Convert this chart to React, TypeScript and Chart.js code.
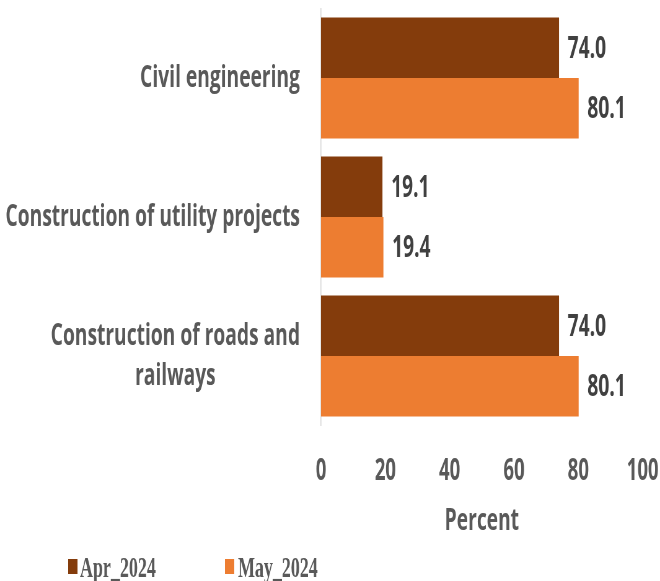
import React, { useEffect, useRef } from 'react';
import { Chart, registerables } from 'chart.js';

Chart.register(...registerables);

// ---- data ----
const categoryLines: string[][] = [
  ['Civil engineering'],
  ['Construction of utility projects'],
  ['Construction of roads and', 'railways'],
];
const categories = categoryLines.map((l) => l.join(' '));
const seriesNames = ['Apr_2024', 'May_2024'];
const apr2024 = [74.0, 19.1, 74.0];
const may2024 = [80.1, 19.4, 80.1];
const xTicks = [0, 20, 40, 60, 80, 100];
const xTitle = 'Percent';

// ---- styling / layout ----
const PAGE_W = 660;
const PAGE_H = 581;
const SQUISH = 0.62; // reference is horizontally compressed
const W = Math.round(PAGE_W / SQUISH);
const H = PAGE_H;
const colors = ['#843C0C', '#ED7D31'];
const FONT = "'Open Sans', sans-serif";
const LEGEND_FONT = "'Liberation Serif', 'Times New Roman', serif";
const legendBoxX = [110, 363];
const legendTextX = [129, 384];

const yLabelPlugin = {
  id: 'yLabels',
  afterDraw(chart: any) {
    const { ctx } = chart;
    const ys = chart.scales.y;
    ctx.save();
    ctx.font = `bold 31px ${FONT}`;
    ctx.fillStyle = '#595959';
    ctx.textAlign = 'center';
    ctx.textBaseline = 'middle';
    const lh = 40;
    categoryLines.forEach((lines, i) => {
      const yc = ys.getPixelForValue(i);
      const blockW = Math.max(...lines.map((t) => ctx.measureText(t).width));
      const cx = ys.right - 34 - blockW / 2;
      const y0 = yc - ((lines.length - 1) * lh) / 2;
      lines.forEach((t, k) => ctx.fillText(t, cx, y0 + k * lh));
    });
    ctx.restore();
  },
};

const dataLabelPlugin = {
  id: 'dataLabels',
  afterDatasetsDraw(chart: any) {
    const { ctx } = chart;
    ctx.save();
    ctx.font = `bold 31px ${FONT}`;
    ctx.fillStyle = '#404040';
    ctx.textAlign = 'left';
    ctx.textBaseline = 'middle';
    chart.data.datasets.forEach((ds: any, di: number) => {
      const meta = chart.getDatasetMeta(di);
      meta.data.forEach((el: any, i: number) => {
        ctx.fillText(Number(ds.data[i]).toFixed(1), el.x + 14, el.y + 1);
      });
    });
    ctx.restore();
  },
};

const legendPlugin = {
  id: 'customLegend',
  afterDraw(chart: any) {
    const { ctx } = chart;
    ctx.save();
    ctx.font = `bold 29px ${LEGEND_FONT}`;
    ctx.textAlign = 'left';
    ctx.textBaseline = 'alphabetic';
    chart.data.datasets.forEach((ds: any, i: number) => {
      ctx.fillStyle = ds.backgroundColor;
      ctx.fillRect(legendBoxX[i], 559, 15, 15);
      ctx.fillStyle = '#595959';
      ctx.fillText(ds.label, legendTextX[i], 577);
    });
    ctx.restore();
  },
};

export default function App() {
  const canvasRef = useRef<HTMLCanvasElement | null>(null);

  useEffect(() => {
    if (!canvasRef.current) return;
    const chart = new Chart(canvasRef.current, {
      type: 'bar',
      data: {
        labels: categories,
        datasets: [
          {
            label: seriesNames[0],
            data: apr2024,
            backgroundColor: colors[0],
            borderWidth: 0,
            categoryPercentage: 0.87,
            barPercentage: 1,
          },
          {
            label: seriesNames[1],
            data: may2024,
            backgroundColor: colors[1],
            borderWidth: 0,
            categoryPercentage: 0.87,
            barPercentage: 1,
          },
        ],
      },
      options: {
        indexAxis: 'y',
        responsive: false,
        animation: false,
        devicePixelRatio: 1,
        layout: { padding: { top: 8.5, right: 0, left: 0, bottom: 0 } },
        plugins: {
          legend: { display: false },
          tooltip: { enabled: false },
        },
        scales: {
          x: {
            min: xTicks[0],
            max: xTicks[xTicks.length - 1],
            grid: { display: false, drawTicks: false },
            border: { display: false },
            ticks: {
              stepSize: xTicks[1] - xTicks[0],
              padding: 28,
              color: '#595959',
              font: { family: FONT, size: 30, weight: 'bold' },
            },
            title: {
              display: true,
              text: xTitle,
              color: '#595959',
              font: { family: FONT, size: 31, weight: 'bold' },
              padding: { top: 0, bottom: 41 },
            },
            afterFit(scale: any) {
              scale.height = 155.5;
              scale.paddingRight = 28;
              scale.paddingLeft = 0;
            },
          },
          y: {
            grid: { display: false, drawTicks: false },
            border: { display: true, color: '#D9D9D9', width: 1.6 },
            ticks: { display: false },
            afterFit(scale: any) {
              scale.width = 518;
            },
          },
        },
      } as any,
      plugins: [yLabelPlugin, dataLabelPlugin, legendPlugin],
    });
    return () => chart.destroy();
  }, []);

  return (
    <div
      style={{
        position: 'absolute',
        left: 0,
        top: 0,
        width: PAGE_W,
        height: PAGE_H,
        overflow: 'hidden',
        background: '#fff',
      }}
    >
      <canvas
        ref={canvasRef}
        width={W}
        height={H}
        style={{ transform: `scaleX(${PAGE_W / W})`, transformOrigin: '0 0', display: 'block' }}
      />
    </div>
  );
}
